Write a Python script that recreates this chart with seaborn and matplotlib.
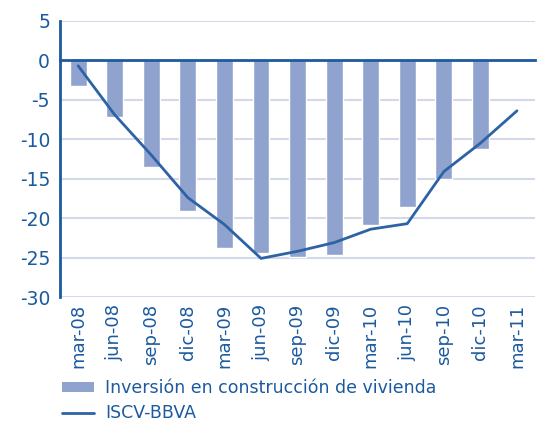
import matplotlib
matplotlib.use("Agg")
import matplotlib.pyplot as plt
import numpy as np
import pandas as pd
import seaborn as sns
from matplotlib.patches import Patch
from matplotlib.lines import Line2D

categories = ['mar-08', 'jun-08', 'sep-08', 'dic-08', 'mar-09', 'jun-09', 'sep-09',
              'dic-09', 'mar-10', 'jun-10', 'sep-10', 'dic-10', 'mar-11']
inversion = [-3.2, -7.2, -13.5, -19.1, -23.8, -24.4, -24.9, -24.7, -20.9, -18.6, -15.0, -11.3, np.nan]
iscv = [-0.7, -6.9, -12.0, -17.4, -20.8, -25.1, -24.2, -23.1, -21.4, -20.7, -14.1, -10.5, -6.4]
yticks = [5, 0, -5, -10, -15, -20, -25, -30]

bar_color = '#8FA3CE'
line_color = '#2D63A6'
text_color = '#1B5A9E'
grid_color = '#D3D8EA'

df = pd.DataFrame({'periodo': categories, 'inversion': inversion, 'iscv': iscv})
df['pos'] = np.arange(len(categories))

sns.set_style("white")
plt.rcParams['font.family'] = ['DejaVu Sans']
plt.rcParams['axes.unicode_minus'] = False

fig = plt.figure(figsize=(5.49, 4.25), dpi=100)
ax = fig.add_axes([0.109, 0.301, 0.866, 0.650])

sns.barplot(data=df, x='periodo', y='inversion', order=categories, color=bar_color,
            width=0.46, saturation=1, ax=ax)
sns.lineplot(data=df, x='pos', y='iscv', color=line_color, linewidth=2, ax=ax)

ax.set_xlim(-0.5, len(categories) - 0.5)
ax.set_ylim(-30, 5)
ax.set_yticks(yticks)
for y in yticks:
    if y != 0:
        ax.axhline(y, color=grid_color, linewidth=1.5, zorder=0)

for s in ['top', 'right']:
    ax.spines[s].set_visible(False)
ax.spines['left'].set_color(text_color)
ax.spines['left'].set_linewidth(2)
ax.spines['bottom'].set_position(('data', 0))
ax.spines['bottom'].set_color(text_color)
ax.spines['bottom'].set_linewidth(2)

ax.set_xticks(np.arange(len(categories)))
ax.set_xticks(np.arange(len(categories) + 1) - 0.5, minor=True)
ax.tick_params(axis='x', which='major', direction='in', length=4, width=1.2,
               color=text_color, labelbottom=False)
ax.tick_params(axis='x', which='minor', direction='out', length=4, width=1.2,
               color=text_color)
ax.tick_params(axis='y', direction='out', length=4, width=1.5, color=text_color,
               labelsize=13.5, labelcolor=text_color, pad=3)
ax.set_xlabel('')
ax.set_ylabel('')

sec = ax.secondary_xaxis(0)
sec.set_xticks(np.arange(len(categories)), labels=categories)
sec.tick_params(length=0, labelsize=13, labelcolor=text_color, rotation=90, pad=5)
sec.spines['bottom'].set_visible(False)

handles = [Patch(facecolor=bar_color, edgecolor='none'),
           Line2D([0], [0], color=line_color, linewidth=2)]
labels = ['Inversión en construcción de vivienda', 'ISCV-BBVA']
leg = fig.legend(handles, labels, loc='lower left', bbox_to_anchor=(0.085, -0.03),
                 frameon=False, fontsize=12.5, handlelength=1.8, handleheight=0.45,
                 labelspacing=0.4, handletextpad=0.65)
for t in leg.get_texts():
    t.set_color(text_color)

fig.savefig('out.png', dpi=100)
